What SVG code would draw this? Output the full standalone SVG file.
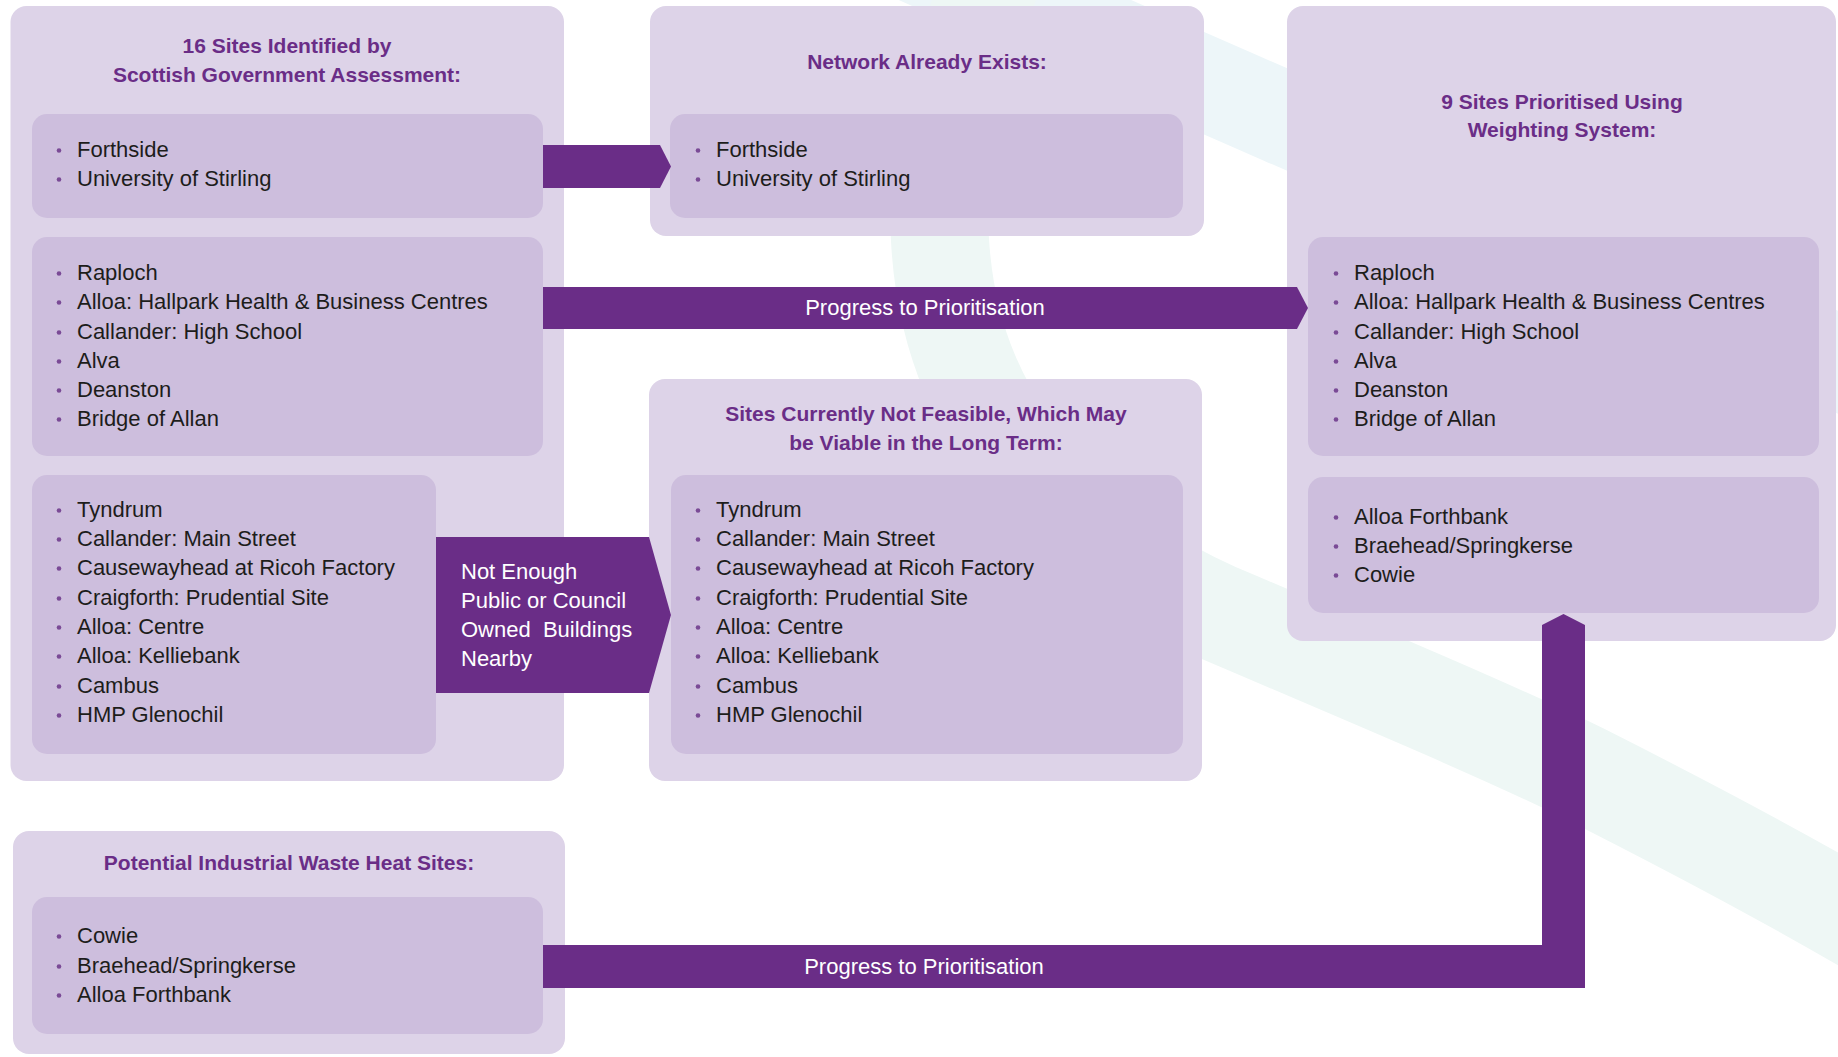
<svg xmlns="http://www.w3.org/2000/svg" width="1838" height="1057" viewBox="0 0 1838 1057">
<style>
.outer{fill:#ddd3e8}
.inner{fill:#cdbedd}
.band1{fill:none;stroke:#eef7f5;stroke-width:98}
.band2{fill:none;stroke:#edf6f9;stroke-width:94}
.title{font-family:"Liberation Sans",Arial,sans-serif;font-weight:bold;font-size:21px;fill:#6a2d87;text-anchor:middle}
.item{font-family:"Liberation Sans",Arial,sans-serif;font-size:22px;fill:#1d1d1b}
.bul{fill:#7a4a96}
.arrow{fill:#6a2d87}
.alabel{font-family:"Liberation Sans",Arial,sans-serif;font-size:22px;fill:#ffffff}
.mid{text-anchor:middle}
</style>
<rect width="1838" height="1057" fill="#ffffff"/>
<g id="background">
<path class="band2" d="M 880,-60 C 1100,40 1500,210 1900,390"/>
<path class="band1" d="M 995,-30 C 960,60 935,160 940,240 C 945,330 975,420 1060,505 C 1120,565 1180,598 1240,622 C 1380,682 1500,732 1583,773 C 1700,832 1800,885 1900,945"/>
</g>

<g id="node-identified">
<rect class="outer" x="10.5" y="6" width="553.5" height="775" rx="16"/>
<text class="title" x="287" y="53">16 Sites Identified by</text>
<text class="title" x="287" y="82">Scottish Government Assessment:</text>
<rect class="inner" x="32" y="114" width="511" height="104" rx="15"/>
<g class="item">
<text x="77" y="157">Forthside</text>
<text x="77" y="186">University of Stirling</text>
</g>
<g class="bul"><circle cx="59" cy="150.5" r="2.3"/><circle cx="59" cy="179.5" r="2.3"/></g>
<rect class="inner" x="32" y="237" width="511" height="219" rx="15"/>
<g class="item">
<text x="77" y="280">Raploch</text>
<text x="77" y="309">Alloa: Hallpark Health &amp; Business Centres</text>
<text x="77" y="339">Callander: High School</text>
<text x="77" y="368">Alva</text>
<text x="77" y="397">Deanston</text>
<text x="77" y="426">Bridge of Allan</text>
</g>
<g class="bul"><circle cx="59" cy="273.5" r="2.3"/><circle cx="59" cy="302.5" r="2.3"/><circle cx="59" cy="332.5" r="2.3"/><circle cx="59" cy="361.5" r="2.3"/><circle cx="59" cy="390.5" r="2.3"/><circle cx="59" cy="419.5" r="2.3"/></g>
<rect class="inner" x="32" y="475" width="404" height="279" rx="15"/>
<g class="item">
<text x="77" y="517">Tyndrum</text>
<text x="77" y="546">Callander: Main Street</text>
<text x="77" y="575">Causewayhead at Ricoh Factory</text>
<text x="77" y="605">Craigforth: Prudential Site</text>
<text x="77" y="634">Alloa: Centre</text>
<text x="77" y="663">Alloa: Kelliebank</text>
<text x="77" y="693">Cambus</text>
<text x="77" y="722">HMP Glenochil</text>
</g>
<g class="bul"><circle cx="59" cy="510.5" r="2.3"/><circle cx="59" cy="539.5" r="2.3"/><circle cx="59" cy="568.5" r="2.3"/><circle cx="59" cy="598.5" r="2.3"/><circle cx="59" cy="627.5" r="2.3"/><circle cx="59" cy="656.5" r="2.3"/><circle cx="59" cy="686.5" r="2.3"/><circle cx="59" cy="715.5" r="2.3"/></g>
</g>

<g id="node-network">
<rect class="outer" x="650" y="6" width="554" height="230" rx="16"/>
<text class="title" x="927" y="69">Network Already Exists:</text>
<rect class="inner" x="670" y="114" width="513" height="104" rx="15"/>
<g class="item">
<text x="716" y="157">Forthside</text>
<text x="716" y="186">University of Stirling</text>
</g>
<g class="bul"><circle cx="698" cy="150.5" r="2.3"/><circle cx="698" cy="179.5" r="2.3"/></g>
</g>

<g id="node-prioritised">
<rect class="outer" x="1287" y="6" width="549" height="635" rx="16"/>
<text class="title" x="1562" y="109">9 Sites Prioritised Using</text>
<text class="title" x="1562" y="137">Weighting System:</text>
<rect class="inner" x="1308" y="237" width="511" height="219" rx="15"/>
<g class="item">
<text x="1354" y="280">Raploch</text>
<text x="1354" y="309">Alloa: Hallpark Health &amp; Business Centres</text>
<text x="1354" y="339">Callander: High School</text>
<text x="1354" y="368">Alva</text>
<text x="1354" y="397">Deanston</text>
<text x="1354" y="426">Bridge of Allan</text>
</g>
<g class="bul"><circle cx="1336" cy="273.5" r="2.3"/><circle cx="1336" cy="302.5" r="2.3"/><circle cx="1336" cy="332.5" r="2.3"/><circle cx="1336" cy="361.5" r="2.3"/><circle cx="1336" cy="390.5" r="2.3"/><circle cx="1336" cy="419.5" r="2.3"/></g>
<rect class="inner" x="1308" y="477" width="511" height="136" rx="15"/>
<g class="item">
<text x="1354" y="524">Alloa Forthbank</text>
<text x="1354" y="553">Braehead/Springkerse</text>
<text x="1354" y="582">Cowie</text>
</g>
<g class="bul"><circle cx="1336" cy="517.5" r="2.3"/><circle cx="1336" cy="546.5" r="2.3"/><circle cx="1336" cy="575.5" r="2.3"/></g>
</g>

<g id="node-not-feasible">
<rect class="outer" x="649" y="379" width="553" height="402" rx="16"/>
<text class="title" x="926" y="421">Sites Currently Not Feasible, Which May</text>
<text class="title" x="926" y="450">be Viable in the Long Term:</text>
<rect class="inner" x="671" y="475" width="512" height="279" rx="15"/>
<g class="item">
<text x="716" y="517">Tyndrum</text>
<text x="716" y="546">Callander: Main Street</text>
<text x="716" y="575">Causewayhead at Ricoh Factory</text>
<text x="716" y="605">Craigforth: Prudential Site</text>
<text x="716" y="634">Alloa: Centre</text>
<text x="716" y="663">Alloa: Kelliebank</text>
<text x="716" y="693">Cambus</text>
<text x="716" y="722">HMP Glenochil</text>
</g>
<g class="bul"><circle cx="698" cy="510.5" r="2.3"/><circle cx="698" cy="539.5" r="2.3"/><circle cx="698" cy="568.5" r="2.3"/><circle cx="698" cy="598.5" r="2.3"/><circle cx="698" cy="627.5" r="2.3"/><circle cx="698" cy="656.5" r="2.3"/><circle cx="698" cy="686.5" r="2.3"/><circle cx="698" cy="715.5" r="2.3"/></g>
</g>

<g id="node-waste-heat">
<rect class="outer" x="13" y="831" width="552" height="223" rx="16"/>
<text class="title" x="289" y="870">Potential Industrial Waste Heat Sites:</text>
<rect class="inner" x="32" y="897" width="511" height="137" rx="15"/>
<g class="item">
<text x="77" y="943">Cowie</text>
<text x="77" y="973">Braehead/Springkerse</text>
<text x="77" y="1002">Alloa Forthbank</text>
</g>
<g class="bul"><circle cx="59" cy="936.5" r="2.3"/><circle cx="59" cy="966.5" r="2.3"/><circle cx="59" cy="995.5" r="2.3"/></g>
</g>

<g id="connectors">
<polygon class="arrow" points="543,145 660,145 671,166.5 660,188 543,188"/>
<polygon class="arrow" points="543,287 1297,287 1308,308 1297,329 543,329"/>
<text class="alabel mid" x="925" y="315">Progress to Prioritisation</text>
<polygon class="arrow" points="436,537 649,537 671,615 649,693 436,693"/>
<text class="alabel" xml:space="preserve"><tspan x="461" y="579">Not Enough</tspan><tspan x="461" y="608">Public or Council</tspan><tspan x="461" y="637">Owned  Buildings</tspan><tspan x="461" y="666">Nearby</tspan></text>
<polygon class="arrow" points="543,945 1542,945 1542,625 1563.5,614 1585,625 1585,988 543,988"/>
<text class="alabel mid" x="924" y="974">Progress to Prioritisation</text>
</g>
</svg>
